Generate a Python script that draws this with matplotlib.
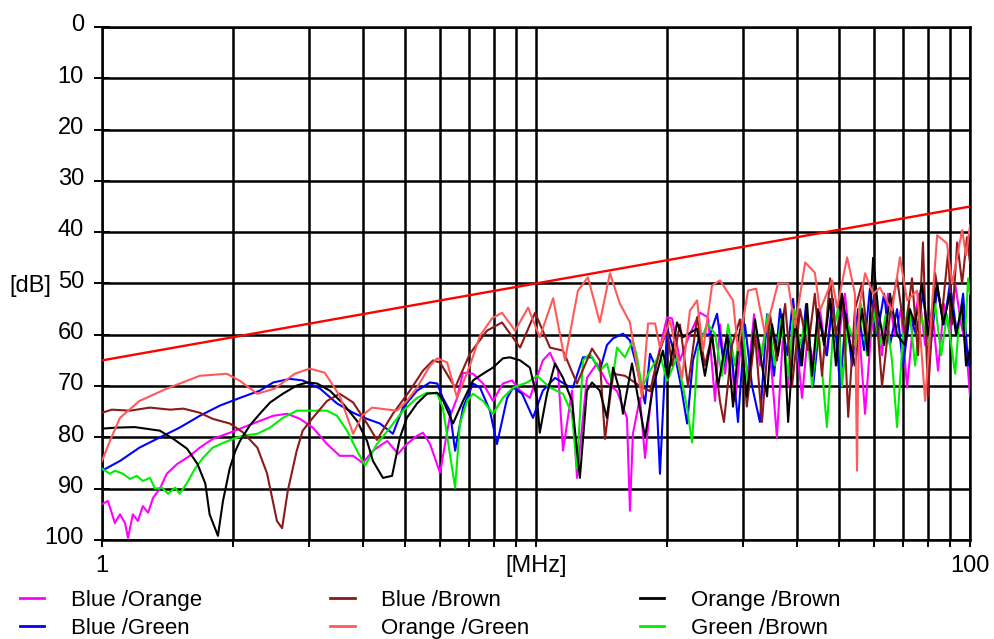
import matplotlib.pyplot as plt
from matplotlib.lines import Line2D
from matplotlib.transforms import ScaledTranslation

plt.rcParams['font.family'] = ['Liberation Sans', 'DejaVu Sans']

# Crosstalk (NEXT) per pair combination, in dB versus frequency in MHz
limit_mhz = [1, 100]
limit_db = [65, 35]

blue_orange_mhz = [1.00, 1.032, 1.071, 1.10, 1.13, 1.148, 1.178, 1.21, 1.242, 1.277, 1.311, 1.36, 1.41, 1.49,
                   1.594, 1.68, 1.80, 1.97, 2.11, 2.31, 2.48, 2.67, 2.86, 3.06, 3.30, 3.53, 3.79, 3.99, 4.21,
                   4.54, 4.81, 5.04, 5.32, 5.49, 5.70, 6.01, 6.33, 6.58, 6.79, 7.16, 7.55, 7.96, 8.39, 8.81,
                   9.19, 9.68, 10.37, 10.77, 11.24, 11.54, 12.10, 12.43, 13.1, 13.82, 14.57, 15.37, 16.2,
                   16.46, 16.72, 17.36, 17.83, 18.6, 20.04, 20.58, 21.46, 22.63, 23.87, 24.9, 25.85, 26.54,
                   27.26, 27.98, 28.74, 29.83, 30.8, 31.8, 32.8, 33.9, 34.98, 35.9, 37.08, 38.1, 39.3, 41.0,
                   42.3, 43.7, 45.1, 46.6, 48.1, 49.6, 51.5, 53.5, 55.2, 57.3, 59.1, 60.7, 62.7, 64.7, 67.2,
                   69.3, 71.6, 73.9, 76.3, 78.8, 81.75, 84.4, 87.1, 89.9, 92.4, 95.4, 97.9, 100]
blue_orange_db = [93.0, 92.4, 96.7, 95.0, 96.7, 99.6, 95.0, 96.3, 93.4, 94.7, 91.8, 90.0, 87.1, 85.2, 83.6,
                  82.0, 80.3, 79.1, 78.1, 76.8, 75.8, 75.4, 76.4, 78.1, 81.3, 83.6, 83.6, 85.0, 82.6, 80.7,
                  83.2, 81.3, 79.7, 79.1, 81.3, 86.9, 76.0, 72.3, 67.4, 67.6, 69.5, 72.9, 69.5, 68.9, 70.9,
                  72.3, 65.0, 63.5, 67.0, 82.6, 70.9, 87.9, 68.4, 65.6, 69.3, 71.0, 76.2, 94.3, 79.3, 72.3,
                  84.0, 68.4, 56.6, 56.8, 65.0, 59.8, 55.7, 56.6, 72.9, 58.0, 67.6, 60.0, 72.9, 60.0, 68.0,
                  56.0, 66.0, 58.0, 68.0, 80.0, 60.0, 70.0, 56.0, 72.3, 60.0, 66.0, 55.0, 64.0, 54.0, 62.0,
                  52.0, 66.0, 56.0, 75.4, 60.0, 54.0, 64.0, 52.0, 60.0, 55.0, 70.3, 58.0, 52.0, 62.0, 55.0,
                  67.0, 54.0, 60.0, 50.0, 58.0, 62.0, 72.0]

blue_green_mhz = [1.00, 1.10, 1.22, 1.36, 1.51, 1.68, 1.87, 2.08, 2.31, 2.48, 2.71, 2.90, 3.18, 3.48, 3.79,
                  4.08, 4.37, 4.68, 4.94, 5.32, 5.70, 5.92, 6.10, 6.33, 6.51, 6.79, 7.16, 7.43, 7.83, 8.13,
                  8.58, 8.86, 9.29, 9.84, 10.37, 11.06, 11.79, 12.16, 12.83, 13.46, 14.03, 14.57, 15.05,
                  15.86, 16.46, 17.09, 17.83, 18.31, 18.81, 19.3, 20.04, 20.9, 21.58, 22.29, 23.0, 23.87,
                  25.17, 26.13, 27.1, 27.98, 29.2, 30.3, 31.46, 32.8, 34.07, 35.35, 36.5, 37.9, 39.1, 40.6,
                  41.9, 43.5, 45.1, 46.8, 48.3, 50.2, 51.8, 53.5, 55.2, 57.0, 58.8, 61.1, 63.4, 65.4, 67.9,
                  70.1, 72.7, 75.1, 77.9, 80.9, 84.0, 87.1, 89.9, 93.4, 96.4, 99.0, 100]
blue_green_db = [86.5, 84.6, 82.0, 80.0, 78.1, 75.8, 73.8, 72.3, 70.9, 69.3, 68.6, 68.9, 70.5, 73.4, 75.2,
                 76.4, 77.3, 79.3, 74.2, 70.9, 69.3, 69.5, 72.3, 74.8, 82.6, 74.2, 69.5, 70.3, 74.8, 81.3,
                 72.3, 70.3, 71.5, 76.2, 70.9, 68.4, 69.9, 70.3, 64.4, 64.4, 67.0, 62.0, 60.7, 59.8, 61.1,
                 66.4, 73.4, 63.7, 66.0, 87.1, 58.6, 64.0, 70.0, 77.3, 65.0, 59.8, 60.0, 55.9, 66.0, 60.0,
                 77.0, 58.0, 70.0, 77.0, 56.0, 68.0, 55.0, 64.0, 53.0, 66.0, 54.0, 70.0, 57.0, 64.0, 53.0,
                 70.0, 56.0, 66.0, 55.0, 63.0, 51.0, 60.0, 52.0, 62.0, 55.0, 66.0, 56.0, 60.0, 52.0, 63.0,
                 51.0, 58.0, 50.0, 60.0, 52.0, 66.0, 62.0]

blue_brown_mhz = [1.00, 1.054, 1.16, 1.29, 1.435, 1.54, 1.68, 1.80, 1.97, 2.11, 2.28, 2.40, 2.53, 2.60, 2.68,
                  2.81, 2.90, 3.06, 3.30, 3.53, 3.79, 4.08, 4.30, 4.68, 5.12, 5.49, 5.79, 6.01, 6.51, 7.04,
                  7.71, 8.35, 9.19, 9.95, 10.77, 11.54, 12.43, 13.46, 14.03, 14.42, 15.05, 16.03, 17.36,
                  18.31, 19.3, 20.04, 20.58, 21.46, 22.4, 23.5, 24.5, 25.44, 26.54, 27.1, 28.29, 29.5, 30.6,
                  31.96, 33.17, 34.6, 35.9, 37.5, 38.9, 40.6, 42.3, 43.9, 45.6, 47.6, 49.1, 51.0, 52.4, 54.3,
                  56.4, 58.2, 60.4, 62.7, 65.4, 67.9, 70.8, 73.5, 75.9, 77.9, 80.0, 83.1, 86.2, 89.0, 90.9,
                  93.4, 95.9, 98.4, 100]
blue_brown_db = [75.2, 74.6, 74.8, 74.2, 74.6, 74.4, 75.2, 76.4, 77.3, 79.0, 82.0, 87.0, 96.3, 97.7, 90.4,
                 82.6, 78.7, 76.2, 72.9, 71.5, 73.2, 77.3, 80.5, 75.4, 70.9, 67.0, 65.0, 65.4, 70.3, 63.7,
                 59.2, 57.6, 62.5, 55.7, 62.5, 63.1, 69.5, 62.7, 65.0, 80.3, 67.6, 68.0, 70.0, 71.0, 63.0,
                 59.0, 66.0, 58.0, 70.0, 56.6, 66.0, 60.0, 73.0, 77.0, 62.0, 57.0, 74.0, 60.0, 77.0, 56.0,
                 65.0, 54.0, 70.0, 55.0, 63.0, 52.0, 68.0, 49.0, 60.0, 53.0, 76.0, 55.0, 50.0, 62.0, 52.0,
                 70.0, 56.0, 49.0, 60.0, 49.0, 64.0, 42.0, 72.0, 48.0, 56.0, 44.0, 58.0, 42.0, 50.0, 41.0,
                 46.0]

orange_green_mhz = [1.00, 1.043, 1.10, 1.22, 1.41, 1.68, 1.94, 2.08, 2.28, 2.50, 2.78, 3.01, 3.26, 3.53, 3.79,
                    3.97, 4.19, 4.78, 5.04, 5.32, 5.70, 5.92, 6.24, 6.58, 7.04, 7.43, 7.92, 8.35, 8.95, 9.59,
                    10.2, 10.95, 11.66, 12.49, 13.17, 14.03, 14.8, 15.6, 16.46, 17.55, 18.12, 18.81, 19.3,
                    20.35, 21.7, 22.63, 23.5, 24.26, 25.44, 26.54, 28.44, 29.2, 30.8, 32.14, 33.7, 36.1,
                    38.1, 39.5, 41.7, 43.9, 45.1, 48.1, 49.4, 52.1, 54.3, 54.9, 55.5, 57.3, 59.8, 62.0, 66.1,
                    68.96, 71.6, 75.5, 78.8, 84.0, 88.5, 90.9, 95.9, 97.9, 100]
orange_green_db = [84.6, 80.7, 76.2, 72.9, 70.5, 68.0, 67.6, 69.0, 71.5, 70.5, 67.6, 66.6, 67.4, 71.9, 79.3,
                   75.8, 74.2, 74.8, 72.9, 70.3, 66.0, 64.6, 65.4, 72.3, 66.0, 60.2, 56.8, 55.7, 59.2, 54.7,
                   60.5, 52.9, 65.0, 51.4, 48.8, 57.6, 48.0, 53.9, 57.6, 72.3, 57.8, 57.8, 62.5, 57.2, 68.4,
                   55.3, 53.3, 63.1, 50.4, 49.4, 53.3, 63.1, 51.4, 51.0, 59.8, 50.0, 50.0, 58.6, 45.9, 47.9,
                   55.3, 49.4, 54.7, 44.9, 52.0, 86.5, 55.0, 48.0, 52.0, 50.8, 55.3, 44.9, 53.3, 51.4, 72.9,
                   40.6, 42.2, 50.0, 39.6, 44.5, 38.7]

orange_brown_mhz = [1.00, 1.08, 1.19, 1.36, 1.46, 1.57, 1.66, 1.73, 1.77, 1.85, 1.90, 1.97, 2.03, 2.08, 2.19,
                    2.31, 2.44, 2.61, 2.81, 2.97, 3.13, 3.35, 3.59, 3.87, 4.08, 4.21, 4.44, 4.66, 4.86, 5.04,
                    5.32, 5.61, 5.92, 6.07, 6.44, 6.79, 7.16, 7.55, 7.96, 8.39, 8.71, 9.19, 9.68, 10.05, 10.2,
                    10.6, 11.06, 11.54, 12.10, 12.62, 13.1, 13.46, 14.03, 14.57, 15.05, 15.6, 15.86, 16.64,
                    17.18, 17.83, 18.6, 19.6, 20.14, 21.13, 21.8, 23.5, 24.5, 25.44, 26.27, 27.55, 28.44, 29.5,
                    30.6, 31.96, 33.17, 34.07, 34.98, 36.1, 37.08, 38.1, 39.5, 41.0, 42.13, 43.25, 44.65, 46.1,
                    47.6, 49.1, 50.7, 52.4, 54.3, 56.4, 58.2, 59.8, 61.4, 63.4, 65.4, 67.9, 70.8, 72.7, 74.7,
                    77.5, 80.0, 84.0, 86.7, 89.9, 92.9, 95.9, 97.9, 100]
orange_brown_db = [78.3, 78.1, 78.0, 78.7, 80.3, 82.2, 85.2, 89.0, 95.0, 99.2, 92.4, 86.0, 82.6, 80.7, 77.7,
                   75.4, 73.2, 71.5, 69.9, 69.3, 69.5, 70.9, 73.4, 76.8, 80.7, 84.6, 87.9, 87.5, 80.0, 76.2,
                   73.4, 71.5, 71.3, 72.3, 77.3, 72.9, 68.9, 67.6, 66.4, 64.6, 64.4, 65.0, 66.4, 72.3, 79.1,
                   71.5, 65.6, 68.4, 72.9, 87.9, 70.9, 69.3, 70.9, 76.2, 66.4, 71.0, 75.4, 65.6, 72.3, 80.0,
                   70.3, 63.1, 68.4, 57.6, 60.5, 58.8, 68.0, 60.0, 70.0, 60.0, 74.0, 59.0, 72.0, 57.0, 66.0,
                   72.0, 58.0, 64.0, 56.0, 77.0, 57.0, 66.0, 54.0, 68.0, 55.0, 62.0, 53.0, 66.0, 52.0, 60.0,
                   66.0, 55.0, 64.0, 45.0, 55.0, 62.0, 52.0, 60.0, 62.0, 55.0, 58.0, 50.0, 60.0, 50.0, 58.0,
                   52.0, 60.0, 54.0, 66.0, 63.0]

green_brown_mhz = [1.00, 1.043, 1.071, 1.118, 1.16, 1.203, 1.242, 1.29, 1.325, 1.375, 1.42, 1.473, 1.51, 1.57,
                   1.638, 1.709, 1.80, 1.90, 2.003, 2.11, 2.28, 2.44, 2.61, 2.81, 3.06, 3.30, 3.48, 3.67, 3.87,
                   4.04, 4.30, 4.61, 4.94, 5.32, 5.61, 5.92, 6.10, 6.30, 6.51, 6.68, 6.94, 7.16, 7.55, 7.96,
                   8.39, 8.86, 9.54, 10.05, 10.77, 11.54, 12.10, 12.43, 12.83, 13.31, 14.03, 14.57, 14.97,
                   15.37, 16.03, 16.72, 17.09, 17.55, 18.31, 19.3, 20.04, 21.13, 22.29, 22.88, 23.6, 24.8,
                   25.85, 26.83, 27.7, 28.74, 29.83, 30.8, 31.96, 33.17, 34.2, 35.5, 36.7, 38.1, 39.3, 40.6,
                   41.9, 43.25, 44.65, 46.8, 48.3, 49.6, 50.7, 52.4, 54.3, 56.1, 57.9, 59.8, 62.0, 64.0, 66.1,
                   67.9, 70.1, 72.3, 74.7, 77.1, 80.0, 83.1, 85.8, 88.5, 92.4, 94.8, 97.4, 99.0, 100]
green_brown_db = [86.1, 87.1, 86.5, 87.1, 88.1, 87.5, 88.5, 87.9, 90.0, 89.8, 91.0, 89.8, 91.0, 88.9, 86.1,
                  84.0, 82.0, 81.1, 80.3, 79.7, 79.3, 78.1, 76.2, 74.8, 74.8, 74.8, 75.8, 78.7, 82.6, 85.5,
                  81.3, 78.1, 74.8, 72.3, 71.3, 71.5, 74.2, 82.0, 89.8, 77.3, 72.9, 71.5, 72.9, 75.4, 72.3,
                  70.3, 69.3, 68.0, 70.3, 71.5, 75.4, 86.0, 65.0, 63.7, 67.0, 65.6, 69.5, 62.5, 64.4, 61.1,
                  64.4, 70.3, 67.0, 63.7, 69.0, 64.4, 74.2, 81.0, 63.1, 57.8, 59.8, 68.0, 58.0, 66.0, 57.0,
                  70.0, 58.0, 64.0, 56.0, 66.0, 57.0, 68.0, 55.0, 62.0, 57.0, 70.0, 58.0, 78.0, 60.0, 55.0,
                  70.0, 58.0, 62.0, 54.0, 64.0, 55.0, 62.0, 56.0, 65.0, 78.0, 60.0, 54.0, 66.0, 56.0, 62.0,
                  54.0, 64.0, 56.0, 67.6, 55.0, 60.0, 49.0, 52.0]

labels = ['Blue /Orange', 'Blue /Green', 'Blue /Brown', 'Orange /Green', 'Orange /Brown', 'Green /Brown']
colors = ['#ff00ff', '#0000ff', '#8b1a1a', '#ff5a5a', '#000000', '#00ee00']

curves = {
    'Blue /Orange': (blue_orange_mhz, blue_orange_db),
    'Blue /Green': (blue_green_mhz, blue_green_db),
    'Blue /Brown': (blue_brown_mhz, blue_brown_db),
    'Orange /Green': (orange_green_mhz, orange_green_db),
    'Orange /Brown': (orange_brown_mhz, orange_brown_db),
    'Green /Brown': (green_brown_mhz, green_brown_db),
}
draw_order = ['Blue /Orange', 'Blue /Green', 'Green /Brown', 'Blue /Brown', 'Orange /Brown', 'Orange /Green']

fig = plt.figure(figsize=(9.95, 6.39), dpi=100)
ax = fig.add_axes([0.1025, 0.155, 0.8724, 0.8028])

for name in draw_order:
    mhz, db = curves[name]
    ax.plot(mhz, db, color=colors[labels.index(name)], lw=1.5, zorder=3)
ax.plot(limit_mhz, limit_db, color='#ff0000', lw=1.7, zorder=4)

ax.set_xscale('log')
ax.set_xlim(1, 100)
ax.set_ylim(100, 0)

ax.set_yticks(range(0, 101, 10))
ax.set_xticks([1, 10, 100])
ax.set_xticklabels(['1', '[MHz]', '100'])
ax.xaxis.set_minor_formatter(plt.NullFormatter())

ax.grid(True, which='both', color='black', lw=1.8, zorder=1)
for sp in ax.spines.values():
    sp.set_color('black')
    sp.set_linewidth(1.8)

ax.tick_params(axis='y', which='major', direction='inout', length=12, width=1.4, labelsize=17, pad=7)
ax.tick_params(axis='x', which='both', direction='out', length=5, width=1.4, labelsize=17, pad=6)

# tick numbers sit a little above their grid line
lift = ScaledTranslation(0, 3 / 72, fig.dpi_scale_trans)
for lbl in ax.get_yticklabels():
    lbl.set_transform(lbl.get_transform() + lift)

ax.set_ylabel('[dB]', rotation=0, fontsize=17, va='center', ha='center')
ax.yaxis.set_label_coords(-0.083, 0.495)

# legend laid out as three columns of two entries
columns = [(0.020, ['Blue /Orange', 'Blue /Green']),
           (0.332, ['Blue /Brown', 'Orange /Green']),
           (0.643, ['Orange /Brown', 'Green /Brown'])]
for x0, names in columns:
    handles = [Line2D([0], [0], color=colors[labels.index(n)], lw=2) for n in names]
    fig.legend(handles, names, loc='upper left', bbox_to_anchor=(x0, 0.077),
               frameon=False, fontsize=16, handlelength=1.1, handletextpad=1.2,
               labelspacing=0.32, borderpad=0, borderaxespad=0)

fig.savefig('out.png', dpi=100)
